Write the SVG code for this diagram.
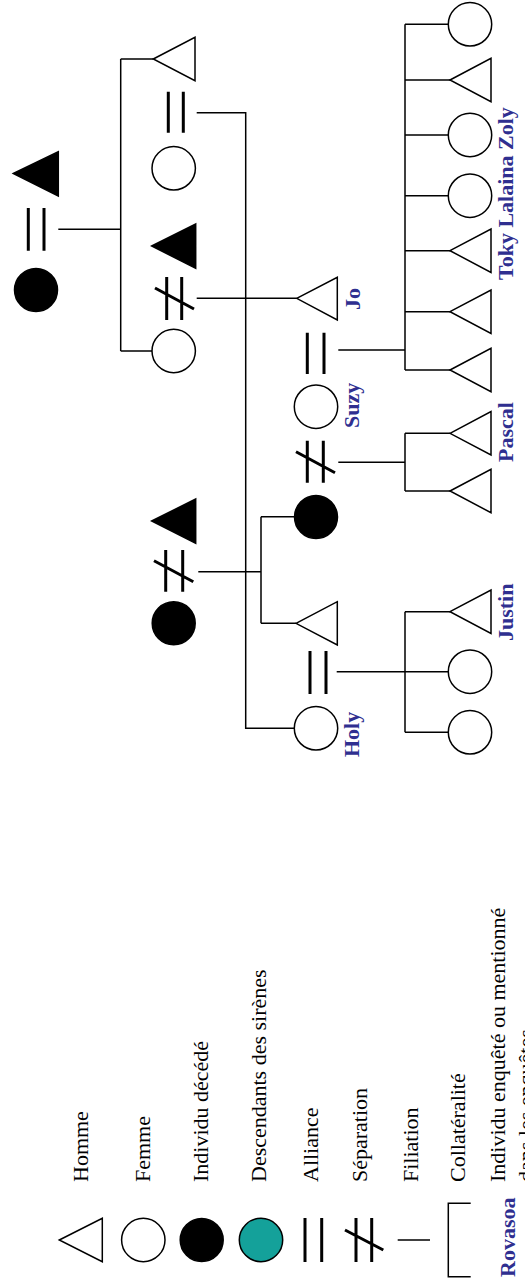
<svg xmlns="http://www.w3.org/2000/svg" width="525" height="1283" viewBox="0 0 525 1283">
<style>
.w{fill:#fff;stroke:#000;stroke-width:1.5}
.b{fill:#000;stroke:#000;stroke-width:1.5}
.t{fill:#14a19a;stroke:#000;stroke-width:1.5}
.eq{stroke:#000;stroke-width:3;fill:none}
.ln{stroke:#000;stroke-width:1.5;fill:none}
.lg{font-family:"Liberation Serif","Times New Roman",serif;font-size:22px;fill:#000}
.nm{font-family:"Liberation Serif","Times New Roman",serif;font-size:22px;font-weight:bold;fill:#2f2f90}
</style>
<rect width="525" height="1283" fill="#fff"/>
<g id="connectors" class="ln">
<path d="M58.3,229.3 H120.7 M120.7,59 V351 M120.7,59 H153.3 M120.7,351 H152"/>
<path d="M196.7,112.7 H245.7 V728.3 H294.3"/>
<path d="M196.7,298.3 H296.7"/>
<path d="M198.3,571.7 H261 M261,516.7 V623.3 M261,516.7 H294 M261,623.3 H296"/>
<path d="M338.3,350 H405 M405,24.3 V370 M405,24.3 H448.3 M405,80 H450 M405,135 H448.3 M405,195.7 H448.3 M405,250.7 H450 M405,311.7 H450 M405,370 H450"/>
<path d="M338.3,462.3 H405 M405,433.3 V491 M405,433.3 H450 M405,491 H450"/>
<path d="M336.7,671.7 H448.3 M405,611.7 V732.3 M405,611.7 H450 M405,732.3 H448.3"/>
</g>
<g id="gen1">
<path id="gf" class="b" d="M13.3,173.5 L58.3,151.7 L58.3,196 Z"/>
<path id="all1" class="eq" d="M28.3,208 V250.7 M44,208 V250.7"/>
<circle id="gm" class="b" cx="36" cy="290" r="21.5"/>
</g>
<g id="gen2">
<path id="n_a" class="w" d="M153.3,59 L195,37.3 L195,80.7 Z"/>
<path id="all2" class="eq" d="M168.3,91.7 V132.7 M183.3,91.7 V132.7"/>
<circle id="n_b" class="w" cx="173.7" cy="168.3" r="21.7"/>
<path id="n_c" class="b" d="M151.7,246 L195.7,224 L195.7,268.3 Z"/>
<path id="sep1" class="eq" d="M166.7,277 V320 M181.7,277 V320 M155,288 L194,309"/>
<circle id="n_d" class="w" cx="173.7" cy="351" r="21.7"/>
<path id="n_e" class="b" d="M151.7,521 L195.7,499 L195.7,543.3 Z"/>
<path id="sep2" class="eq" d="M165.7,550 V591.7 M182.7,550 V591.7 M154,560.7 L193.3,581.7"/>
<circle id="n_f" class="b" cx="173.7" cy="623.3" r="21.5"/>
</g>
<g id="gen3">
<g id="jo"><path class="w" d="M296.7,298.3 L337.3,277.3 L337.3,320 Z"/><text class="nm" transform="translate(360,310) rotate(-90)">Jo</text></g>
<path id="all3" class="eq" d="M307.3,332.7 V374 M324,332.7 V374"/>
<g id="suzy"><circle class="w" cx="316" cy="406.7" r="21.7"/><text class="nm" transform="translate(359,428) rotate(-90)">Suzy</text></g>
<path id="sep3" class="eq" d="M307.3,440.7 V482.7 M323.3,440.7 V482.7 M296,451.7 L335,472.7"/>
<circle id="n_g" class="b" cx="316" cy="517" r="21.5"/>
<path id="n_h" class="w" d="M296,623.3 L337.3,601.7 L337.3,645 Z"/>
<path id="all4" class="eq" d="M310,651 V694 M326,651 V694"/>
<g id="holy"><circle class="w" cx="316" cy="728.3" r="21.7"/><text class="nm" transform="translate(359,757) rotate(-90)">Holy</text></g>
</g>
<g id="gen4">
<g id="toky_group">
<circle class="w" cx="470" cy="24.3" r="21.7"/>
<path class="w" d="M450,80 L491,58.3 L491,101.7 Z"/>
<circle class="w" cx="470" cy="135" r="21.7"/>
<circle class="w" cx="470" cy="195.7" r="21.7"/>
<path class="w" d="M450,250.7 L491,229 L491,272.4 Z"/>
<path class="w" d="M450,311.7 L491,290 L491,333.4 Z"/>
<path class="w" d="M450,370 L491,348.3 L491,391.7 Z"/>
<text class="nm" transform="translate(513,280) rotate(-90)">Toky Lalaina Zoly</text>
</g>
<g id="pascal_group">
<path class="w" d="M450,433.3 L491,411.6 L491,455 Z"/>
<path class="w" d="M450,491 L491,469.3 L491,512.7 Z"/>
<text class="nm" transform="translate(513,462) rotate(-90)">Pascal</text>
</g>
<g id="justin_group">
<path class="w" d="M450,611.7 L491,590 L491,633.4 Z"/>
<circle class="w" cx="470" cy="671.7" r="21.7"/>
<circle class="w" cx="470" cy="732.3" r="21.7"/>
<text class="nm" transform="translate(513,641) rotate(-90)">Justin</text>
</g>
</g>
<g id="legend">
<g id="lg_homme"><path class="w" d="M59.3,1240 L102.3,1218.3 L102.3,1261.7 Z"/><text class="lg" transform="translate(88,1182) rotate(-90)">Homme</text></g>
<g id="lg_femme"><circle class="w" cx="143.3" cy="1240" r="21.7"/><text class="lg" transform="translate(150,1182) rotate(-90)">Femme</text></g>
<g id="lg_decede"><circle class="b" cx="201.7" cy="1240" r="21.5"/><text class="lg" transform="translate(208,1182) rotate(-90)">Individu décédé</text></g>
<g id="lg_sirenes"><circle class="t" cx="261" cy="1240" r="21.7"/><text class="lg" transform="translate(266,1182) rotate(-90)">Descendants des sirènes</text></g>
<g id="lg_alliance"><path class="eq" d="M305,1218 V1262 M321.7,1218 V1262"/><text class="lg" transform="translate(318,1182) rotate(-90)">Alliance</text></g>
<g id="lg_separation"><path class="eq" d="M356,1218 V1262 M371.7,1218 V1262 M345,1230 L383.3,1250"/><text class="lg" transform="translate(367,1182) rotate(-90)">Séparation</text></g>
<g id="lg_filiation"><path class="ln" d="M397.7,1240 H430"/><text class="lg" transform="translate(418,1182) rotate(-90)">Filiation</text></g>
<g id="lg_collateralite"><path class="ln" d="M470.7,1203.3 H448.3 V1276.7 H470.7"/><text class="lg" transform="translate(465,1182) rotate(-90)">Collatéralité</text></g>
<g id="lg_enquete"><text class="nm" transform="translate(515,1277) rotate(-90)">Rovasoa</text><text class="lg" transform="translate(505,1182) rotate(-90)">Individu enquêté ou mentionné</text><text class="lg" transform="translate(533,1182) rotate(-90)">dans les enquêtes</text></g>
</g>
</svg>
